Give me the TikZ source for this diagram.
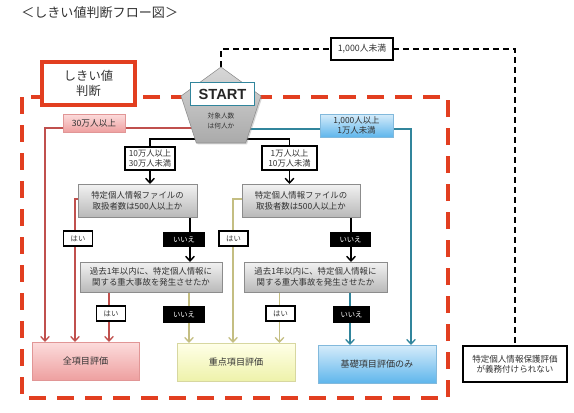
\documentclass[tikz,border=0pt]{standalone}
\usepackage{fontspec}
\setmainfont{Noto Sans CJK JP}
\newfontfamily\startfont{Liberation Sans}
\usetikzlibrary{shapes.geometric,arrows.meta,calc,shadows,backgrounds}
\definecolor{framered}{RGB}{226,62,32}
\definecolor{rline}{RGB}{192,80,77}
\definecolor{oline}{RGB}{196,190,130}
\definecolor{tline}{RGB}{49,133,156}
\definecolor{gtop}{RGB}{242,242,242}
\definecolor{gbot}{RGB}{185,185,185}
\definecolor{boxline}{RGB}{140,140,140}
\definecolor{txt}{RGB}{50,50,50}
\definecolor{ptop}{RGB}{252,220,220}
\definecolor{pbot}{RGB}{238,160,160}
\definecolor{pline}{RGB}{225,150,150}
\definecolor{ytop}{RGB}{255,255,232}
\definecolor{ybot}{RGB}{238,242,170}
\definecolor{yline}{RGB}{215,215,160}
\definecolor{btop}{RGB}{214,236,250}
\definecolor{bbot}{RGB}{95,182,236}
\definecolor{bline}{RGB}{130,185,220}
\definecolor{pgtop}{RGB}{215,215,215}
\definecolor{pgbot}{RGB}{170,170,170}
\begin{document}
\begin{tikzpicture}[x=0.75pt,y=-0.75pt,
  sz/.style 2 args={minimum width=#1*0.75pt,minimum height=#2*0.75pt,inner sep=0pt,outer sep=0pt},
  shad/.style={drop shadow={shadow xshift=1pt,shadow yshift=-1pt,opacity=0.3}},
  gbox/.style={draw=boxline,top color=gtop,bottom color=gbot,align=center,text=txt,
    font=\fontsize{6.3}{8.3}\selectfont,shad},
  wlab/.style={draw=black,line width=1.1pt,fill=white,align=center,text=txt,
    font=\fontsize{6.2}{7.5}\selectfont},
  hai/.style={draw=black,line width=1.1pt,fill=white,text=txt,
    font=\fontsize{5.5}{6}\selectfont,sz={29}{15}},
  iie/.style={fill=black,text=white,font=\fontsize{5.5}{6}\selectfont},
  res/.style={align=center,text=txt,font=\fontsize{6.8}{8}\selectfont,shad},
  tip/.style={-{Straight Barb[length=3.5pt,width=6.5pt]}},
  blk/.style={line width=1.1pt,draw=black},
  redl/.style={line width=1pt,draw=rline},
  olvl/.style={line width=1pt,draw=oline},
  tell/.style={line width=1pt,draw=tline},
  blkdash/.style={line width=1.1pt,draw=black,dash pattern=on 4.5pt off 3pt}
]
% ---------- nodes ----------
\node[anchor=west,text=txt,font=\fontsize{9.8}{11}\selectfont,inner sep=0pt] (title) at (21,13) {＜しきい値判断フロー図＞};

\node[draw=framered,line width=3pt,fill=white,sz={93}{43},align=center,text=txt,
  font=\fontsize{9.2}{11.3}\selectfont] (shiki) at (88.5,83.5) {しきい値\\判断};

\node[regular polygon,regular polygon sides=5,minimum size=63pt,inner sep=0pt,
  draw=boxline,top color=pgtop,bottom color=pgbot,shad] (pent) at (221,109) {};
\node[draw=tline,line width=1.1pt,fill=white,sz={64}{23},
  font=\startfont\bfseries\fontsize{11}{12}\selectfont,text=black!85] (start) at (222.5,94) {START};
\node[align=center,text=txt,font=\fontsize{5}{7.5}\selectfont,inner sep=0pt] (pentxt) at (221,121) {対象人数\\は何人か};

\node[draw=black,line width=1.1pt,fill=white,sz={62}{22},text=txt,
  font=\fontsize{6.6}{7.5}\selectfont] (lab1000) at (362,49) {1,000人未満};

\node[draw=pline,top color=ptop,bottom color=pbot,sz={62}{18},text=txt,
  font=\fontsize{6.5}{7.5}\selectfont,shad] (lab30) at (94,123) {30万人以上};
\node[draw=bline,top color=btop,bottom color=bbot,sz={73}{23},align=center,text=txt,
  font=\fontsize{6.3}{7.5}\selectfont,shad] (labkiso) at (356.5,125.5) {1,000人以上\\1万人未満};

\node[wlab,sz={50}{23}] (lab10) at (150,158.5) {10万人以上\\30万人未満};
\node[wlab,sz={55}{24}] (lab1m) at (289.5,158) {1万人以上\\10万人未満};

\node[gbox,sz={119}{33}] (A1) at (137.5,200.5) {特定個人情報ファイルの\\取扱者数は500人以上か};
\node[gbox,sz={118}{33}] (B1) at (301,200.5) {特定個人情報ファイルの\\取扱者数は500人以上か};
\node[gbox,sz={142}{30}] (A2) at (151,277) {過去1年以内に、特定個人情報に\\関する重大事故を発生させたか};
\node[gbox,sz={143}{30}] (B2) at (315.5,277) {過去1年以内に、特定個人情報に\\関する重大事故を発生させたか};

\node[hai] (hai1) at (78,238.5) {はい};
\node[iie,sz={42}{15}] (iie1) at (184,239.5) {いいえ};
\node[hai] (hai2) at (233.5,238.5) {はい};
\node[iie,sz={41}{15}] (iie2) at (350.5,239.5) {いいえ};
\node[hai] (hai3) at (111,313.5) {はい};
\node[iie,sz={42}{17}] (iie3) at (184,314.5) {いいえ};
\node[hai] (hai4) at (280.5,313.5) {はい};
\node[iie,sz={37}{17}] (iie4) at (351.5,314.5) {いいえ};

\node[res,draw=pline,top color=ptop,bottom color=pbot,sz={107}{38}] (zen) at (85.5,361) {全項目評価};
\node[res,draw=yline,top color=ytop,bottom color=ybot,sz={118}{38}] (jyu) at (236,362) {重点項目評価};
\node[res,draw=bline,top color=btop,bottom color=bbot,sz={118}{38}] (kiso) at (377,364) {基礎項目評価のみ};

\node[draw=black,line width=1.1pt,fill=white,sz={104}{36},align=center,text=txt,
  font=\fontsize{6.4}{7.5}\selectfont,shad] (gui) at (515,364) {特定個人情報保護評価\\が義務付けられない};

\coordinate (pl) at (212,128);
\coordinate (pr) at (230,129);
\coordinate (pb) at (221,139);

% ---------- background: frame and connectors ----------
\begin{scope}[on background layer]
\fill[white] (0,0) rectangle (574,412);
\draw[framered,line width=3pt,dash pattern=on 12.75pt off 8.25pt] (22,97) rectangle (448,398);

\draw[blkdash] (pent.corner 1) |- (lab1000.west);
\draw[blkdash] (lab1000.east) -| (gui.north);

\draw[redl,tip] (pl) -| ($(zen.north west)+(13,0)$);
\draw[tell,tip] (pr) -| ($(kiso.north east)+(-25,0)$);

\draw[blk] (pb) -| (lab10.north);
\draw[blk] (pb) -| (lab1m.north);
\draw[blk,tip] (lab10.south) -- (lab10.south |- A1.north);
\draw[blk,tip] (lab1m.south) -- (lab1m.south |- B1.north);

\draw[redl,tip] ($(A1.west)+(0,-1.5)$) -| ($(zen.north west)+(43,0)$);
\coordinate (a2r) at ($(A2.south west)+(29,0)$);
\draw[redl,tip] (a2r) -- (a2r |- zen.north);

\coordinate (a1n) at ($(A1.south east)+(-7,0)$);
\draw[blk,tip] (a1n) -- (a1n |- A2.north);
\coordinate (a2n) at ($(A2.south west)+(109,0)$);
\draw[olvl,tip] (a2n) -- (a2n |- jyu.north);

\draw[olvl,tip] ($(B1.west)+(0,-1.5)$) -| ($(jyu.north west)+(56,0)$);
\coordinate (b2y) at ($(B2.south west)+(35.5,0)$);
\draw[olvl,tip] (b2y) -- (b2y |- jyu.north);

\coordinate (b1n) at ($(B1.south east)+(-9,0)$);
\draw[blk,tip] (b1n) -- (b1n |- B2.north);
\coordinate (b2n) at ($(B2.south west)+(106,0)$);
\draw[tell,tip] (b2n) -- (b2n |- kiso.north);
\end{scope}
\useasboundingbox (0,0) rectangle (574,412);
\end{tikzpicture}
\end{document}
